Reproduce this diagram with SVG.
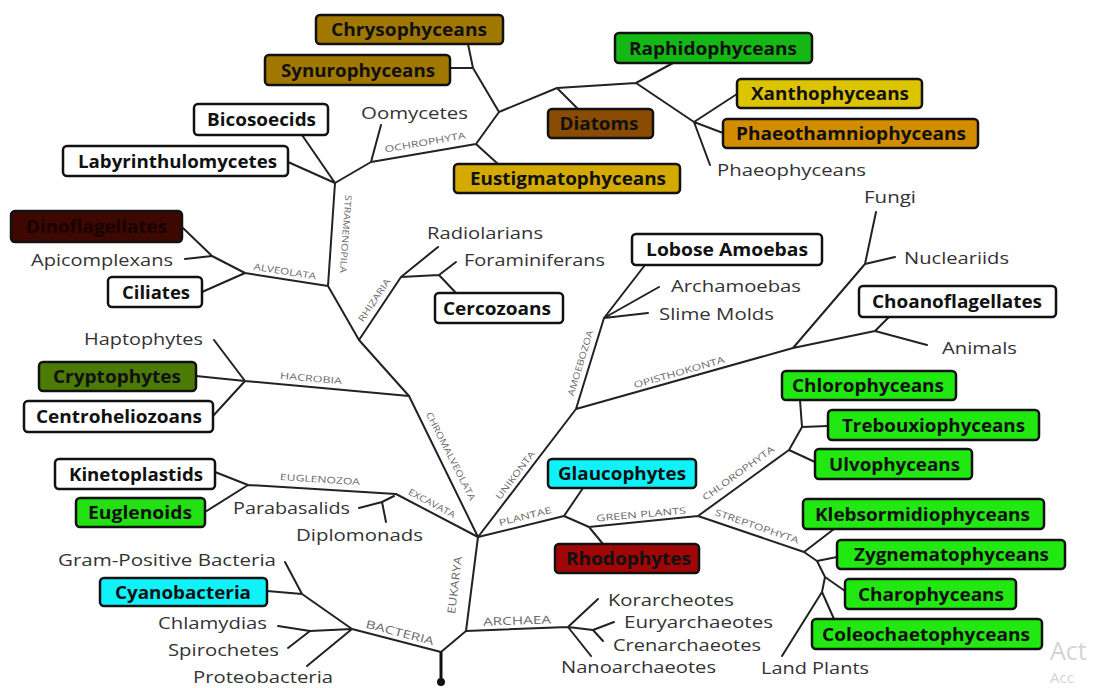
<svg xmlns="http://www.w3.org/2000/svg" width="1098" height="688" viewBox="0 0 1098 688">
<style>
.bx{stroke:#111;stroke-width:2.5}
.b{font-family:"Open Sans","DejaVu Sans",sans-serif;font-weight:bold;font-size:17px;fill:#111;text-anchor:middle;dominant-baseline:central}
.t{font-family:"Open Sans","DejaVu Sans",sans-serif;font-size:17px;fill:#333;text-anchor:middle;dominant-baseline:central}
.c{font-family:"Open Sans","DejaVu Sans",sans-serif;font-size:9px;fill:#6a6a6a;text-anchor:middle;dominant-baseline:central}
.ln{fill:none;stroke:#222;stroke-width:2;stroke-linejoin:round;stroke-linecap:round}
.wm{font-family:"Open Sans",sans-serif;fill:#d4d4d4}
</style>
<rect width="1098" height="688" fill="#fff"/>
<g id="connectors">
<path class="ln" d="M302,135L335,183M288,162L335,183M335,183L371,162M371,162L381,125M371,162L476,144M476,144L498,164M476,144L499,112M499,112L473,68L468,44M450,68L473,68M499,112L557,88M557,88L578,109M557,88L636,83M636,83L673,63M636,83L694,122M694,122L737,94M694,122L723,133M694,122L710,165"/>
<path class="ln" d="M335,183L328,286M328,286L245,273M245,273L202,292M245,273L212,256M212,256L183,228M185,259L212,256M328,286L359,340"/>
<path class="ln" d="M359,340L401,277M401,277L438,247M401,277L439,275M439,275L456,262M439,275L456,293M359,340L409,396"/>
<path class="ln" d="M409,396L245,381M245,381L214,340M245,381L196,376M245,381L213,416M409,396L478,537"/>
<path class="ln" d="M478,537L396,494M396,494L248,485M248,485L215,472M248,485L205,512M394,496L382,502M382,502L359,508M382,502L386,522"/>
<path class="ln" d="M478,537L466,631M466,631L441,652M441,652L352,629M352,629L302,594M302,594L285,562M302,594L267,591M352,629L310,631M310,631L278,626M310,631L288,648M352,629L307,666"/>
<path d="M441,652L441,682" fill="none" stroke="#111" stroke-width="3"/>
<circle cx="441" cy="682" r="4" fill="#111"/>
<path class="ln" d="M466,631L568,627M568,627L598,599M568,627L593,630M593,630L614,622M593,630L603,641M568,627L591,656"/>
<path class="ln" d="M478,537L576,409M576,409L604,318M604,318L645,265M604,318L659,287M604,318L648,313M576,409L793,348M793,348L865,264M865,264L876,212M865,264L895,257M793,348L875,331M875,331L889,317M875,331L927,345"/>
<path class="ln" d="M478,537L564,516M564,516L583,488M564,516L589,527M589,527L603,544M589,527L698,516M698,516L789,450M789,450L815,462M789,450L802,427M802,427L828,426M802,427L800,400M698,516L804,552M804,552L834,529M804,552L817,561M817,561L837,557M817,561L825,577M825,577L845,591M825,577L822,592M822,592L834,619M822,592L782,656"/>
</g>
<g id="clade-labels">
<text class="c" x="346" y="234" textLength="78" lengthAdjust="spacingAndGlyphs" transform="rotate(94 346 234)">STRAMENOPILA</text>
<text class="c" x="285" y="271" textLength="63" lengthAdjust="spacingAndGlyphs" transform="rotate(9 285 271)">ALVEOLATA</text>
<text class="c" x="425" y="142" textLength="82" lengthAdjust="spacingAndGlyphs" transform="rotate(-10 425 142)">OCHROPHYTA</text>
<text class="c" x="374" y="300" textLength="50" lengthAdjust="spacingAndGlyphs" transform="rotate(-56 374 300)">RHIZARIA</text>
<text class="c" x="311" y="378" textLength="62" lengthAdjust="spacingAndGlyphs" transform="rotate(5 311 378)">HACROBIA</text>
<text class="c" x="451" y="456" textLength="98" lengthAdjust="spacingAndGlyphs" transform="rotate(63 451 456)">CHROMALVEOLATA</text>
<text class="c" x="320" y="479" textLength="80" lengthAdjust="spacingAndGlyphs" transform="rotate(3.5 320 479)">EUGLENOZOA</text>
<text class="c" x="432" y="503" textLength="52" lengthAdjust="spacingAndGlyphs" transform="rotate(28 432 503)">EXCAVATA</text>
<text class="c" x="580" y="363" textLength="68" lengthAdjust="spacingAndGlyphs" transform="rotate(-73 580 363)">AMOEBOZOA</text>
<text class="c" x="515" y="475" textLength="58" lengthAdjust="spacingAndGlyphs" transform="rotate(-53 515 475)">UNIKONTA</text>
<text class="c" x="679" y="372" textLength="94" lengthAdjust="spacingAndGlyphs" transform="rotate(-16 679 372)">OPISTHOKONTA</text>
<text class="c" x="525" y="516" textLength="54" lengthAdjust="spacingAndGlyphs" transform="rotate(-14 525 516)">PLANTAE</text>
<text class="c" x="641" y="514" textLength="90" lengthAdjust="spacingAndGlyphs" transform="rotate(-5 641 514)">GREEN PLANTS</text>
<text class="c" x="738" y="473" textLength="86" lengthAdjust="spacingAndGlyphs" transform="rotate(-36 738 473)">CHLOROPHYTA</text>
<text class="c" x="757" y="526" textLength="88" lengthAdjust="spacingAndGlyphs" transform="rotate(19 757 526)">STREPTOPHYTA</text>
<text class="c" x="400" y="632" textLength="70" lengthAdjust="spacingAndGlyphs" style="font-size:11px" transform="rotate(14.5 400 632)">BACTERIA</text>
<text class="c" x="454" y="585" textLength="58" lengthAdjust="spacingAndGlyphs" style="font-size:11px" transform="rotate(-83 454 585)">EUKARYA</text>
<text class="c" x="517" y="620" textLength="68" lengthAdjust="spacingAndGlyphs" style="font-size:11px" transform="rotate(-2 517 620)">ARCHAEA</text>
</g>
<g id="n-chrysophyceans"><rect class="bx" x="316" y="15" width="187" height="29" rx="4" fill="#a07800"/><text class="b" x="409" y="29.5" textLength="156" lengthAdjust="spacingAndGlyphs">Chrysophyceans</text></g>
<g id="n-synurophyceans"><rect class="bx" x="265" y="55" width="185" height="30" rx="4" fill="#a07800"/><text class="b" x="358" y="70" textLength="154" lengthAdjust="spacingAndGlyphs">Synurophyceans</text></g>
<g id="n-raphidophyceans"><rect class="bx" x="615" y="33" width="197" height="30" rx="4" fill="#14b814"/><text class="b" x="713" y="48" textLength="168" lengthAdjust="spacingAndGlyphs">Raphidophyceans</text></g>
<g id="n-xanthophyceans"><rect class="bx" x="737" y="79" width="185" height="29" rx="4" fill="#dcc500"/><text class="b" x="830" y="93.5" textLength="158" lengthAdjust="spacingAndGlyphs">Xanthophyceans</text></g>
<g id="n-phaeothamniophyceans"><rect class="bx" x="723" y="119" width="255" height="29" rx="4" fill="#d28c00"/><text class="b" x="851" y="133.5" textLength="230" lengthAdjust="spacingAndGlyphs">Phaeothamniophyceans</text></g>
<g id="n-diatoms"><rect class="bx" x="548" y="109" width="105" height="29" rx="4" fill="#8a4b02"/><text class="b" x="599" y="123.5" textLength="79" lengthAdjust="spacingAndGlyphs">Diatoms</text></g>
<g id="n-eustigmatophyceans"><rect class="bx" x="454" y="164" width="226" height="29" rx="4" fill="#d4aa00"/><text class="b" x="568" y="178.5" textLength="196" lengthAdjust="spacingAndGlyphs">Eustigmatophyceans</text></g>
<g id="n-bicosoecids"><rect class="bx" x="194" y="104" width="134" height="31" rx="4" fill="#fff"/><text class="b" x="261.5" y="119.5" textLength="109" lengthAdjust="spacingAndGlyphs">Bicosoecids</text></g>
<g id="n-labyrinthulomycetes"><rect class="bx" x="63" y="146" width="225" height="30" rx="4" fill="#fff"/><text class="b" x="177.5" y="161" textLength="199" lengthAdjust="spacingAndGlyphs">Labyrinthulomycetes</text></g>
<g id="n-dinoflagellates"><rect class="bx" x="11" y="211" width="171" height="31" rx="4" fill="#3c0800"/><text class="b" x="96.5" y="226.5" textLength="141" lengthAdjust="spacingAndGlyphs" style="fill:#1a0200">Dinoflagellates</text></g>
<g id="n-ciliates"><rect class="bx" x="108" y="277" width="94" height="30" rx="4" fill="#fff"/><text class="b" x="156" y="292" textLength="68" lengthAdjust="spacingAndGlyphs">Ciliates</text></g>
<g id="n-lobose-amoebas"><rect class="bx" x="632" y="234" width="190" height="31" rx="4" fill="#fff"/><text class="b" x="727" y="249.5" textLength="162" lengthAdjust="spacingAndGlyphs">Lobose Amoebas</text></g>
<g id="n-choanoflagellates"><rect class="bx" x="859" y="286" width="197" height="31" rx="4" fill="#fff"/><text class="b" x="957" y="301.5" textLength="170" lengthAdjust="spacingAndGlyphs">Choanoflagellates</text></g>
<g id="n-cercozoans"><rect class="bx" x="435" y="293" width="128" height="30" rx="4" fill="#fff"/><text class="b" x="497" y="308" textLength="108" lengthAdjust="spacingAndGlyphs">Cercozoans</text></g>
<g id="n-cryptophytes"><rect class="bx" x="39" y="362" width="157" height="29" rx="4" fill="#4b7a05"/><text class="b" x="117" y="376.5" textLength="128" lengthAdjust="spacingAndGlyphs">Cryptophytes</text></g>
<g id="n-centroheliozoans"><rect class="bx" x="24" y="401" width="189" height="31" rx="4" fill="#fff"/><text class="b" x="119" y="416.5" textLength="166" lengthAdjust="spacingAndGlyphs">Centroheliozoans</text></g>
<g id="n-kinetoplastids"><rect class="bx" x="55" y="459" width="160" height="30" rx="4" fill="#fff"/><text class="b" x="136" y="474" textLength="134" lengthAdjust="spacingAndGlyphs">Kinetoplastids</text></g>
<g id="n-euglenoids"><rect class="bx" x="76" y="498" width="129" height="29" rx="4" fill="#22e011"/><text class="b" x="140" y="512.5" textLength="104" lengthAdjust="spacingAndGlyphs">Euglenoids</text></g>
<g id="n-glaucophytes"><rect class="bx" x="548" y="459" width="148" height="29" rx="4" fill="#10f2fa"/><text class="b" x="622" y="473.5" textLength="128" lengthAdjust="spacingAndGlyphs">Glaucophytes</text></g>
<g id="n-rhodophytes"><rect class="bx" x="555" y="544" width="144" height="29" rx="4" fill="#a00606"/><text class="b" x="628.5" y="558.5" textLength="125" lengthAdjust="spacingAndGlyphs">Rhodophytes</text></g>
<g id="n-cyanobacteria"><rect class="bx" x="100" y="578" width="167" height="28" rx="4" fill="#10f2fa"/><text class="b" x="183" y="592" textLength="136" lengthAdjust="spacingAndGlyphs">Cyanobacteria</text></g>
<g id="n-chlorophyceans"><rect class="bx" x="782" y="371" width="174" height="29" rx="4" fill="#22e811"/><text class="b" x="868" y="385.5" textLength="152" lengthAdjust="spacingAndGlyphs">Chlorophyceans</text></g>
<g id="n-trebouxiophyceans"><rect class="bx" x="828" y="410" width="211" height="30" rx="4" fill="#22e811"/><text class="b" x="933.5" y="425" textLength="183" lengthAdjust="spacingAndGlyphs">Trebouxiophyceans</text></g>
<g id="n-ulvophyceans"><rect class="bx" x="815" y="449" width="157" height="30" rx="4" fill="#22e811"/><text class="b" x="894.5" y="464" textLength="131" lengthAdjust="spacingAndGlyphs">Ulvophyceans</text></g>
<g id="n-klebsormidiophyceans"><rect class="bx" x="803" y="499" width="241" height="30" rx="4" fill="#22e811"/><text class="b" x="922.5" y="514" textLength="215" lengthAdjust="spacingAndGlyphs">Klebsormidiophyceans</text></g>
<g id="n-zygnematophyceans"><rect class="bx" x="837" y="540" width="228" height="29" rx="4" fill="#22e811"/><text class="b" x="951.5" y="554.5" textLength="195" lengthAdjust="spacingAndGlyphs">Zygnematophyceans</text></g>
<g id="n-charophyceans"><rect class="bx" x="845" y="579" width="171" height="30" rx="4" fill="#22e811"/><text class="b" x="931" y="594" textLength="146" lengthAdjust="spacingAndGlyphs">Charophyceans</text></g>
<g id="n-coleochaetophyceans"><rect class="bx" x="812" y="619" width="230" height="30" rx="4" fill="#22e811"/><text class="b" x="926" y="634" textLength="208" lengthAdjust="spacingAndGlyphs">Coleochaetophyceans</text></g>
<g id="n-oomycetes"><text class="t" x="414.5" y="112" textLength="107" lengthAdjust="spacingAndGlyphs">Oomycetes</text></g>
<g id="n-phaeophyceans"><text class="t" x="791.5" y="169" textLength="149" lengthAdjust="spacingAndGlyphs">Phaeophyceans</text></g>
<g id="n-fungi"><text class="t" x="890" y="196" textLength="52" lengthAdjust="spacingAndGlyphs">Fungi</text></g>
<g id="n-nucleariids"><text class="t" x="956.5" y="257" textLength="105" lengthAdjust="spacingAndGlyphs">Nucleariids</text></g>
<g id="n-archamoebas"><text class="t" x="736" y="285" textLength="130" lengthAdjust="spacingAndGlyphs">Archamoebas</text></g>
<g id="n-slime-molds"><text class="t" x="716.5" y="313" textLength="115" lengthAdjust="spacingAndGlyphs">Slime Molds</text></g>
<g id="n-radiolarians"><text class="t" x="485" y="232" textLength="116" lengthAdjust="spacingAndGlyphs">Radiolarians</text></g>
<g id="n-foraminiferans"><text class="t" x="534.5" y="259" textLength="141" lengthAdjust="spacingAndGlyphs">Foraminiferans</text></g>
<g id="n-apicomplexans"><text class="t" x="102" y="259" textLength="142" lengthAdjust="spacingAndGlyphs">Apicomplexans</text></g>
<g id="n-haptophytes"><text class="t" x="143.5" y="338" textLength="119" lengthAdjust="spacingAndGlyphs">Haptophytes</text></g>
<g id="n-animals"><text class="t" x="979.5" y="347" textLength="75" lengthAdjust="spacingAndGlyphs">Animals</text></g>
<g id="n-parabasalids"><text class="t" x="291.5" y="507" textLength="117" lengthAdjust="spacingAndGlyphs">Parabasalids</text></g>
<g id="n-diplomonads"><text class="t" x="359.5" y="534" textLength="127" lengthAdjust="spacingAndGlyphs">Diplomonads</text></g>
<g id="n-gram-positive"><text class="t" x="167" y="559" textLength="218" lengthAdjust="spacingAndGlyphs">Gram-Positive Bacteria</text></g>
<g id="n-chlamydias"><text class="t" x="212.5" y="622" textLength="109" lengthAdjust="spacingAndGlyphs">Chlamydias</text></g>
<g id="n-spirochetes"><text class="t" x="223.5" y="649" textLength="111" lengthAdjust="spacingAndGlyphs">Spirochetes</text></g>
<g id="n-proteobacteria"><text class="t" x="263" y="676" textLength="140" lengthAdjust="spacingAndGlyphs">Proteobacteria</text></g>
<g id="n-korarcheotes"><text class="t" x="671" y="599" textLength="126" lengthAdjust="spacingAndGlyphs">Korarcheotes</text></g>
<g id="n-euryarchaeotes"><text class="t" x="698.5" y="621" textLength="149" lengthAdjust="spacingAndGlyphs">Euryarchaeotes</text></g>
<g id="n-crenarchaeotes"><text class="t" x="687" y="644" textLength="148" lengthAdjust="spacingAndGlyphs">Crenarchaeotes</text></g>
<g id="n-nanoarchaeotes"><text class="t" x="638.5" y="666" textLength="155" lengthAdjust="spacingAndGlyphs">Nanoarchaeotes</text></g>
<g id="n-land-plants"><text class="t" x="815" y="667" textLength="108" lengthAdjust="spacingAndGlyphs">Land Plants</text></g>
<g id="watermark">
<text class="wm" x="1050" y="660" font-size="25">Act</text>
<text class="wm" x="1050" y="683" font-size="15">Acc</text>
</g>
</svg>
